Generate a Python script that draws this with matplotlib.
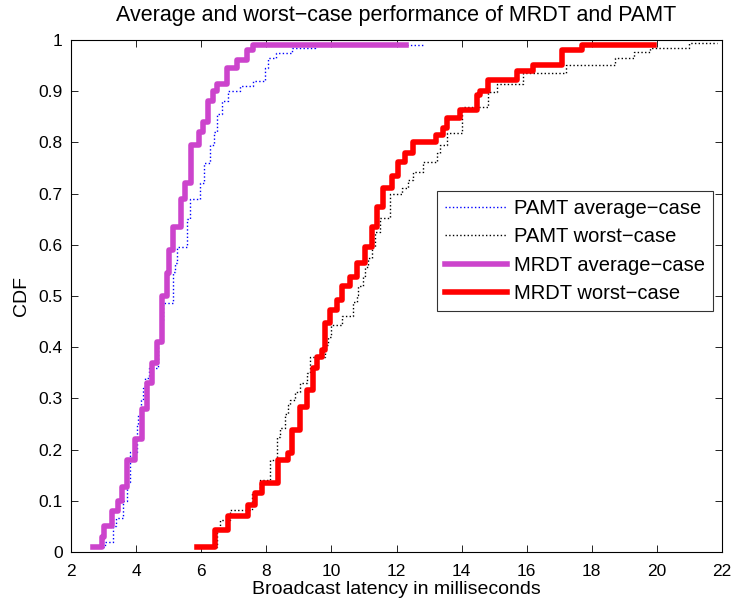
import numpy as np
import matplotlib
matplotlib.use("Agg")
import matplotlib.pyplot as plt

plt.rcParams['font.family'] = ['Liberation Sans', 'DejaVu Sans']

# CDF breakpoints (step goes up to y at x)
pamt_avg_x = [2.85, 3.04, 3.30, 3.38, 3.60, 3.72, 3.81, 4.03, 4.06, 4.15, 4.22, 4.27,
              4.40, 4.67, 4.78, 4.80, 4.83, 5.13, 5.20, 5.25, 5.56, 5.65, 5.96, 6.10,
              6.27, 6.40, 6.50, 6.64, 6.82, 7.20, 7.60, 7.97, 8.05, 8.30, 8.80, 9.50, 12.80]
pamt_avg_y = [0.01, 0.02, 0.05, 0.066, 0.10, 0.137, 0.195, 0.248, 0.267, 0.297, 0.32, 0.34,
              0.36, 0.408, 0.437, 0.453, 0.486, 0.547, 0.565, 0.595, 0.65, 0.69, 0.72, 0.76,
              0.795, 0.82, 0.855, 0.88, 0.90, 0.91, 0.92, 0.945, 0.965, 0.975, 0.985, 0.99, 0.99]

pamt_worst_x = [6.00, 6.50, 6.58, 6.90, 7.56, 7.80, 8.10, 8.33, 8.42, 8.58, 8.67, 8.73,
                8.88, 9.03, 9.25, 9.34, 9.80, 9.90, 10.00, 10.33, 10.66, 10.79, 10.82, 10.97,
                11.03, 11.12, 11.25, 11.34, 11.50, 11.80, 12.17, 12.35, 12.50, 12.80, 13.24,
                13.33, 13.55, 14.00, 14.80, 15.10, 15.90, 17.20, 18.70, 19.30, 19.80, 21.00, 21.85]
pamt_worst_y = [0.01, 0.043, 0.062, 0.082, 0.115, 0.14, 0.18, 0.225, 0.242, 0.27, 0.287, 0.297,
                0.312, 0.33, 0.35, 0.38, 0.404, 0.42, 0.443, 0.46, 0.488, 0.502, 0.52, 0.54,
                0.557, 0.574, 0.596, 0.625, 0.652, 0.70, 0.71, 0.727, 0.742, 0.762, 0.78,
                0.795, 0.818, 0.869, 0.898, 0.915, 0.935, 0.951, 0.964, 0.976, 0.984, 0.994, 0.994]

mrdt_avg_x = [2.67, 2.95, 3.00, 3.25, 3.45, 3.57, 3.72, 3.97, 4.18, 4.33, 4.50, 4.64,
              4.80, 4.95, 5.00, 5.13, 5.38, 5.50, 5.70, 5.93, 6.05, 6.20, 6.36, 6.50,
              6.80, 7.10, 7.40, 7.60, 12.30]
mrdt_avg_y = [0.01, 0.03, 0.05, 0.08, 0.10, 0.127, 0.18, 0.22, 0.28, 0.33, 0.37, 0.41,
              0.50, 0.545, 0.59, 0.635, 0.69, 0.72, 0.795, 0.82, 0.84, 0.88, 0.90, 0.915,
              0.945, 0.96, 0.98, 0.99, 0.99]

mrdt_worst_x = [5.87, 6.42, 6.82, 7.44, 7.65, 7.87, 8.36, 8.67, 8.79, 9.03, 9.25, 9.44,
                9.56, 9.71, 9.80, 9.96, 10.17, 10.33, 10.57, 10.79, 11.03, 11.25, 11.40, 11.60,
                11.86, 12.05, 12.26, 12.50, 13.20, 13.43, 13.55, 13.95, 14.47, 14.57, 14.80,
                15.70, 16.20, 17.08, 17.70, 19.90]
mrdt_worst_y = [0.01, 0.043, 0.07, 0.092, 0.115, 0.134, 0.18, 0.193, 0.238, 0.283, 0.316, 0.36,
                0.38, 0.394, 0.447, 0.473, 0.492, 0.52, 0.537, 0.564, 0.596, 0.635, 0.674, 0.71,
                0.735, 0.762, 0.78, 0.80, 0.814, 0.828, 0.847, 0.863, 0.893, 0.90, 0.922,
                0.94, 0.951, 0.98, 0.99, 0.99]

fig = plt.figure(figsize=(7.34, 6.05), dpi=100)
ax = fig.add_axes([71 / 734, 53 / 605, 651 / 734, 512 / 605])

ax.step(pamt_avg_x, pamt_avg_y, where='post', color='#0000FF', lw=1.0, ls=':',
        label='PAMT average−case')
ax.step(pamt_worst_x, pamt_worst_y, where='post', color='black', lw=1.0, ls=':',
        label='PAMT worst−case')
ax.step(mrdt_avg_x, mrdt_avg_y, where='post', color='#CC44CC', lw=4,
        label='MRDT average−case')
ax.step(mrdt_worst_x, mrdt_worst_y, where='post', color='#FF0000', lw=4,
        label='MRDT worst−case')

ax.set_xlim(2, 22)
ax.set_ylim(0, 1)
ax.set_xticks(np.arange(2, 23, 2))
ax.set_yticks(np.arange(0, 1.01, 0.1))
ax.set_yticklabels(['0', '0.1', '0.2', '0.3', '0.4', '0.5', '0.6', '0.7', '0.8', '0.9', '1'])
ax.tick_params(direction='in', top=True, right=True, labelsize=12.5, length=5, width=0.6)
ax.tick_params(axis='x', pad=9)
ax.tick_params(axis='y', pad=6)
for s in ax.spines.values():
    s.set_linewidth(0.8)

ax.set_title('Average and worst−case performance of MRDT and PAMT', fontsize=15.5, pad=14)
ax.set_xlabel('Broadcast latency in milliseconds', fontsize=14, labelpad=1)
ax.set_ylabel('CDF', fontsize=14, labelpad=6)

leg = ax.legend(loc='upper left', bbox_to_anchor=(0.562, 0.705), fontsize=14.5,
                handlelength=3.1, frameon=True, fancybox=False, borderaxespad=0,
                labelspacing=0.46, handletextpad=0.35, borderpad=0.4)
leg.get_frame().set_edgecolor('black')
leg.get_frame().set_linewidth(0.8)

fig.savefig('out.png', dpi=100)
